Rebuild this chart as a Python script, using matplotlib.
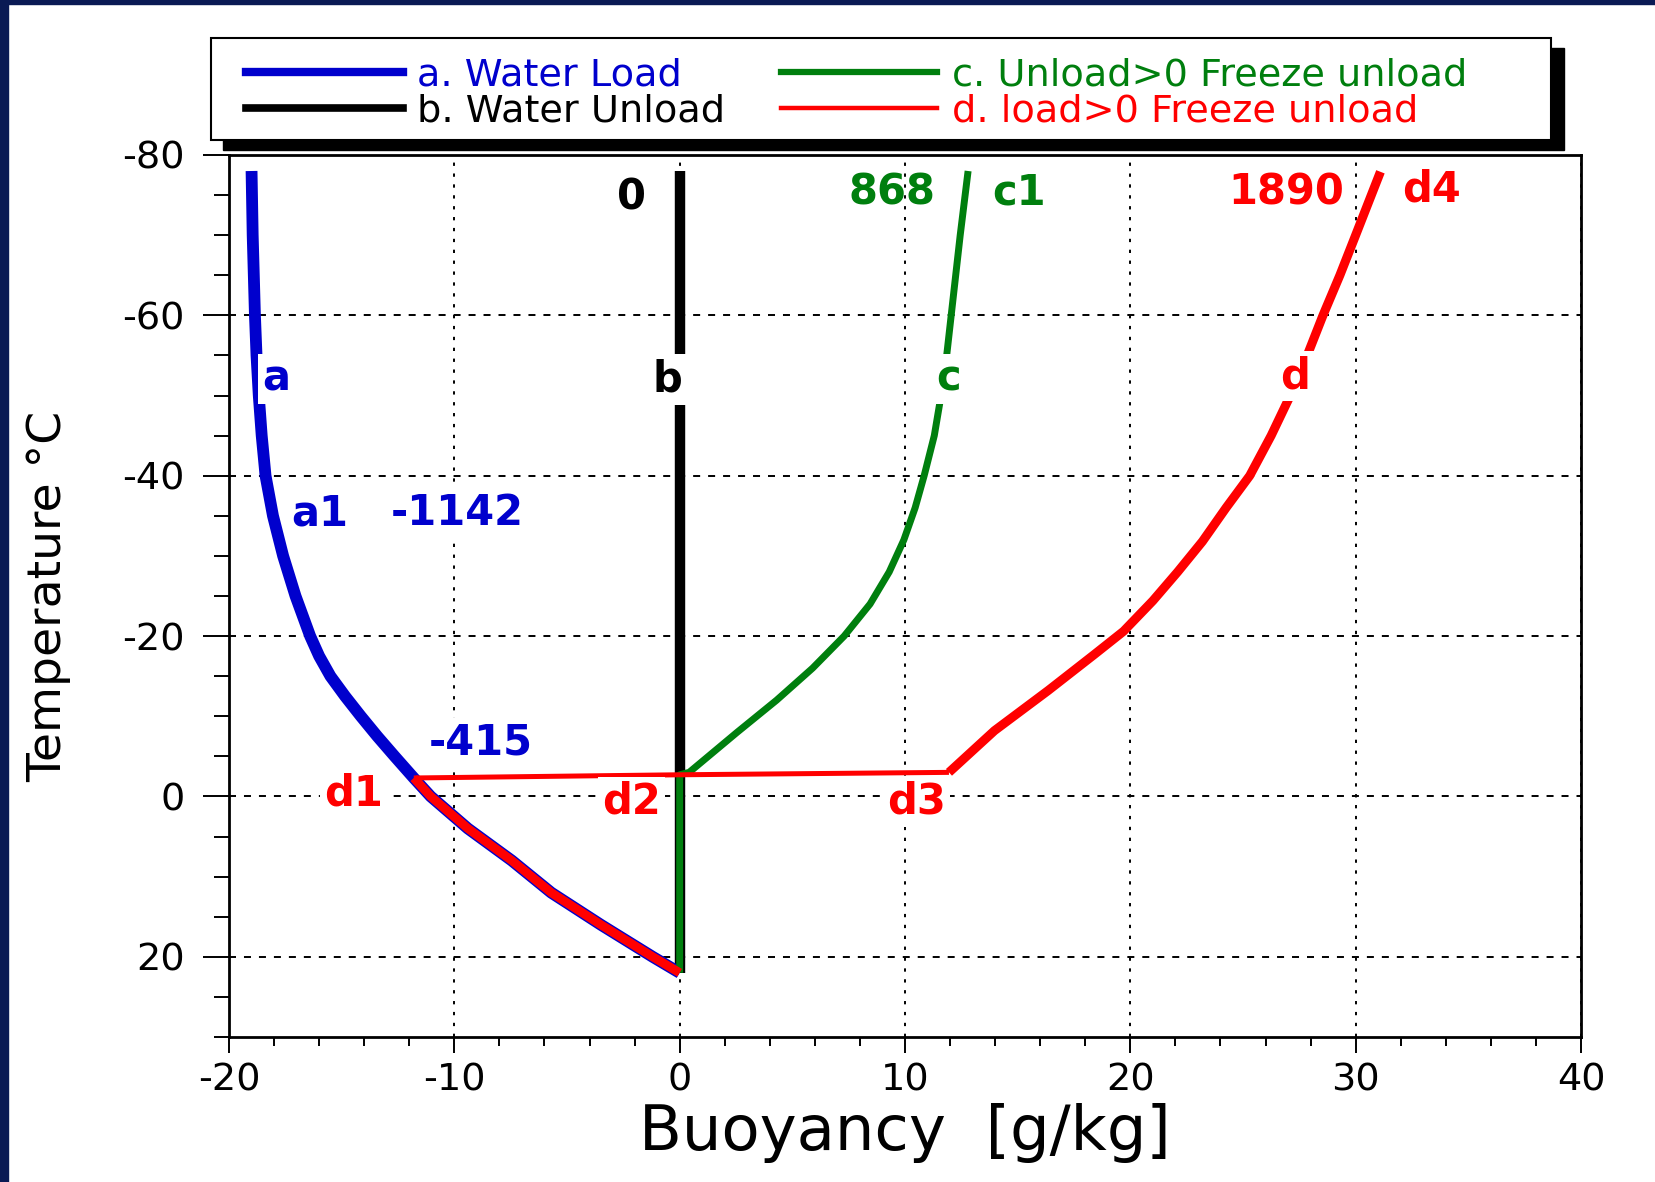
import matplotlib as mpl
mpl.use('Agg')
import matplotlib.pyplot as plt
from matplotlib.lines import Line2D
from matplotlib.patches import Rectangle
from matplotlib.ticker import MultipleLocator

plt.rcParams['axes.unicode_minus'] = False

#curve data: buoyancy [g/kg] against temperature [C]
#a. water load (blue)
temp_a = [-78, -70, -60, -55, -50, -45, -40, -35, -30, -25, -20, -17.5, -15, -12.5,
          -10, -7.5, -5, -2.3, 0, 4, 8, 12, 16, 20, 22]
buoy_a = [-19.0, -18.95, -18.85, -18.78, -18.68, -18.55, -18.38, -18.05, -17.6, -17.05,
          -16.4, -16.0, -15.5, -14.85, -14.15, -13.42, -12.65, -11.8, -11.05, -9.4,
          -7.45, -5.7, -3.5, -1.2, 0.0]

#b. water unload (black)
temp_b = [22, -78]
buoy_b = [0.0, 0.0]

#c. unload>0 freeze unload (green)
temp_c = [22, -2.7, -3.0, -8, -12, -16, -20, -24, -28, -32, -36, -40,
          -45, -50, -55, -60, -70, -78]
buoy_c = [0.0, 0.0, 0.42, 2.55, 4.3, 5.9, 7.3, 8.45, 9.3, 9.95, 10.45, 10.85,
          11.3, 11.6, 11.85, 12.05, 12.45, 12.8]

#d. load>0 freeze unload (red)
temp_d = [22, 20, 16, 12, 8, 4, 0, -2.3, -2.7, -3.0, -8.2, -13.2, -17.7, -20.6,
          -24.4, -28, -31.8, -36, -40, -45, -50, -55, -60, -65, -70, -77.9]
buoy_d = [0.0, -1.2, -3.5, -5.7, -7.45, -9.4, -11.05, -11.8, 0.0, 11.95, 13.97,
          16.35, 18.4, 19.7, 21.0, 22.1, 23.2, 24.25, 25.3, 26.25, 27.1, 27.85,
          28.55, 29.3, 30.0, 31.1]

legend_labels = ["a. Water Load", "b. Water Unload",
                 "c. Unload>0 Freeze unload", "d. load>0 Freeze unload"]

#point labels: text, buoyancy, temperature, colour
point_labels = [
    ("0", -2.14, -74.7, "k"),
    ("868", 9.44, -75.3, "g"),
    ("c1", 15.07, -75.3, "g"),
    ("1890", 26.93, -75.3, "r"),
    ("d4", 33.35, -75.7, "r"),
    ("a", -17.9, -52.1, "b"),
    ("b", -0.55, -52.0, "k"),
    ("c", 11.93, -52.1, "g"),
    ("d", 27.3, -52.4, "r"),
    ("a1", -15.97, -35.3, "b"),
    ("-1142", -9.87, -35.3, "b"),
    ("-415", -8.84, -6.7, "b"),
    ("d1", -14.47, -0.4, "r"),
    ("d2", -2.14, 0.66, "r"),
    ("d3", 10.52, 0.66, "r"),
]

BLUE = "#0000CD"
GREEN = "#007F0E"
RED = "#FF0000"
NAVY = "#0A1A54"
colours = {"b": BLUE, "g": GREEN, "r": RED, "k": "black"}

fig = plt.figure(figsize=(16.56, 11.82), dpi=100)
fig.patch.set_facecolor("white")
W, H = 1656.0, 1182.0

#navy frame strips on left and top
fig.patches.append(Rectangle((0, 0), 8/W, 1, transform=fig.transFigure,
                             color=NAVY, zorder=-5))
fig.patches.append(Rectangle((0, 1-4/H), 1, 4/H, transform=fig.transFigure,
                             color=NAVY, zorder=-5))

ax = fig.add_axes([0.1383, 0.1227, 0.8164, 0.7462])
ax.set_xlim(-20, 40)
ax.set_ylim(30, -80)

#lines
kw = dict(solid_capstyle="butt", solid_joinstyle="round")
ax.plot(buoy_b, temp_b, color="black", lw=7.5, zorder=2, **kw)
ax.plot(buoy_a, temp_a, color=BLUE, lw=8.5, zorder=3, **kw)
ax.plot(buoy_c, temp_c, color=GREEN, lw=5, zorder=4, **kw)
ax.plot(buoy_d[:8], temp_d[:8], color=RED, lw=6.5, zorder=5, **kw)
ax.plot(buoy_d[7:10], temp_d[7:10], color=RED, lw=3.6, zorder=5, **kw)
ax.plot(buoy_d[9:], temp_d[9:], color=RED, lw=6.5, zorder=5, **kw)

#labels, white boxes cut the lines like in the original
for txt, x, y, c in point_labels:
    if y < -70:
        bbox = None
    else:
        bbox = dict(facecolor="white", edgecolor="none", pad=3)
    ax.text(x, y, txt, color=colours[c], fontsize=30, fontweight="bold",
            ha="center", va="center", bbox=bbox, zorder=6)

#ticks and grid
ax.xaxis.set_major_locator(MultipleLocator(10))
ax.xaxis.set_minor_locator(MultipleLocator(2))
ax.yaxis.set_major_locator(MultipleLocator(20))
ax.yaxis.set_minor_locator(MultipleLocator(5))
ax.tick_params(axis="x", which="major", length=11.5, width=1.4, pad=7, labelsize=27.5)
ax.tick_params(axis="x", which="minor", length=6.8, width=1.4)
ax.tick_params(axis="y", which="major", length=18.7, width=1.4, pad=13, labelsize=27.5)
ax.tick_params(axis="y", which="minor", length=10.8, width=1.4)
ax.grid(axis="x", which="major", color="black", lw=1.4, linestyle=(0, (1.7, 3.9)))
ax.grid(axis="y", which="major", color="black", lw=1.4, linestyle=(0, (3.6, 4.1)))
for s in ax.spines.values():
    s.set_linewidth(2)

ax.set_xlabel("Buoyancy  [g/kg]", fontsize=45)
ax.set_ylabel("Temperature °C", fontsize=34)
ax.xaxis.set_label_coords(0.5, -0.075)
ax.yaxis.set_label_coords(-0.117, 0.5)

#legend box with black shadow
fig.patches.append(Rectangle((223/W, 1-150/H), (1564-223)/W, (150-48)/H,
                             transform=fig.transFigure, color="black", zorder=2))
fig.patches.append(Rectangle((211/W, 1-140/H), (1551-211)/W, (140-38)/H,
                             transform=fig.transFigure, facecolor="white",
                             edgecolor="black", lw=1.5, zorder=3))

handles = [Line2D([], [], color=BLUE, lw=6),
           Line2D([], [], color="black", lw=5.5),
           Line2D([], [], color=GREEN, lw=4.5),
           Line2D([], [], color=RED, lw=3.2)]
leg = fig.legend(handles, legend_labels, loc="upper left",
                 bbox_to_anchor=(246/W, 1-57/H), ncol=2, frameon=False,
                 fontsize=27.5, handlelength=4.1, handletextpad=0.38,
                 columnspacing=1.45, labelspacing=0.0, borderpad=0,
                 borderaxespad=0, labelcolor="linecolor")
leg.set_zorder(5)

fig.savefig("out.png", dpi=100)
